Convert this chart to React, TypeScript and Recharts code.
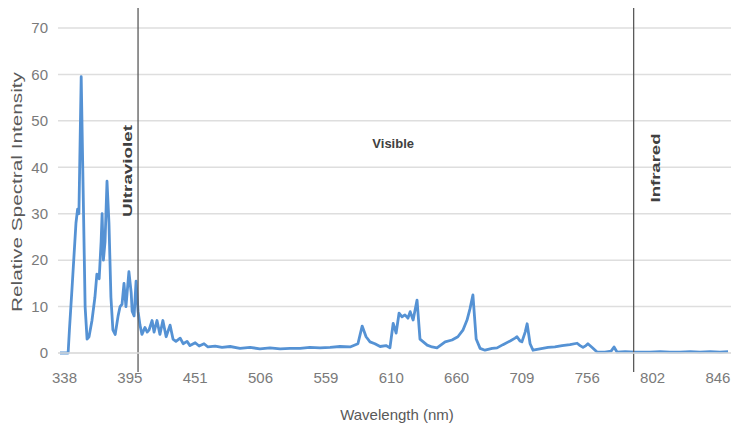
import { LineChart, Line, XAxis, YAxis, CartesianGrid, ReferenceLine, ReferenceDot, Label } from 'recharts'

// spectrum samples: position along the category axis (20 samples per tick label) and intensity
const sampleIndex = [
  -1.4, 1.1, 1.5, 2.3, 3.5, 4.0, 4.4, 5.1, 5.7, 6.3, 6.9, 7.5, 8.4, 9.3, 9.9, 10.6, 11.2, 11.5, 11.9, 12.4,
  13.0, 13.6, 14.2, 14.8, 15.5, 16.4, 17.0, 17.6, 18.2, 18.8, 19.7, 20.4, 20.7, 21.3, 21.9, 22.5, 23.1, 23.7,
  24.6, 25.3, 25.9, 26.8, 27.4, 28.3, 29.2, 30.1, 31.1, 32.3, 33.2, 34.1, 35.4, 36.3, 37.5, 38.4, 40.0, 41.2,
  42.7, 43.9, 46.1, 48.2, 50.7, 53.7, 56.8, 59.8, 62.9, 66.0, 69.0, 72.1, 75.1, 78.2, 81.3, 84.3, 87.4, 89.8,
  91.1, 92.3, 93.5, 95.0, 96.6, 98.4, 99.6, 100.6, 101.5, 102.4, 103.3, 104.2, 105.1, 105.8, 106.7, 107.9,
  108.8, 111.0, 112.5, 114.0, 116.5, 118.6, 120.4, 122.0, 123.2, 124.1, 125.0, 126.0, 127.2, 128.7, 130.9,
  132.4, 134.2, 136.4, 137.9, 138.5, 139.4, 140.0, 141.0, 141.6, 142.5, 143.4, 145.5, 148.0, 150.1, 152.3,
  154.7, 156.9, 157.8, 158.7, 159.6, 160.2, 161.5, 163.0, 165.4, 167.3, 168.2, 169.1, 171.6, 174.6, 179.2,
  182.3, 185.3, 188.4, 191.5, 194.5, 197.6, 200.6, 203.1,
]
const intensity = [
  0, 0, 5, 14, 28, 31, 30, 59.5, 35, 10, 3, 3.5, 7, 12, 17, 16, 24, 30, 20, 24,
  37, 28, 12, 5, 4, 8, 10, 10.5, 15, 10, 17.5, 13, 9, 8, 15.5, 9, 6, 4,
  5.5, 4.5, 5, 7, 4.5, 7, 4, 7, 3.5, 6, 3, 2.5, 3.2, 2, 2.5, 1.6, 2.2, 1.5,
  2, 1.3, 1.5, 1.2, 1.4, 1, 1.2, 0.9, 1.1, 0.9, 1, 1, 1.2, 1.1, 1.2, 1.4, 1.3, 2,
  5.8, 3.5, 2.4, 2, 1.4, 1.6, 1.1, 6.4, 4.3, 8.6, 7.8, 8.2, 7.5, 8.9, 7.1, 11.4,
  3, 1.7, 1.3, 1.1, 2.4, 2.8, 3.5, 5, 7.1, 9.5, 12.5, 3, 1, 0.6, 1,
  1.1, 1.8, 2.6, 3.2, 3.5, 2.6, 2.4, 4.5, 6.3, 2, 0.6, 0.9, 1.2, 1.3, 1.6,
  1.8, 2.1, 1.6, 1.2, 1.6, 2, 1.2, 0.2, 0.2, 0.4, 1.3, 0.2, 0.3, 0.2, 0.2,
  0.3, 0.2, 0.2, 0.3, 0.2, 0.3, 0.2, 0.3,
]

const tickPositions = [0, 20, 40, 60, 80, 100, 120, 140, 160, 180, 200]
const tickLabels = ['338', '395', '451', '506', '559', '610', '660', '709', '756', '802', '846']
const yTicks = [0, 10, 20, 30, 40, 50, 60, 70]

// borders between spectral regions, in sample positions
const uvEdge = 22.5
const irEdge = 174.2

const data = sampleIndex.map((idx, i) => ({ idx, value: intensity[i] }))

const sans = '"Liberation Sans", Arial, sans-serif'

if (typeof document !== 'undefined') document.body.style.margin = '0'

export default function App() {
  return (
    <LineChart width={732} height={430} data={data} margin={{ top: 28, right: 1, bottom: 37, left: 8 }}>
      <CartesianGrid vertical={false} stroke="#dedede" strokeWidth={1.5} />
      <XAxis
        dataKey="idx"
        type="number"
        domain={[-2, 204]}
        ticks={tickPositions}
        tickFormatter={(v: number) => tickLabels[tickPositions.indexOf(v)]}
        axisLine={{ stroke: '#dedede', strokeWidth: 1.5 }}
        tickLine={false}
        tickMargin={13}
        height={40}
        tick={{ fill: '#7a7a7a', fontSize: 15, fontFamily: sans }}
        allowDataOverflow
      >
        <Label
          content={() => (
            <text x={397} y={416} textAnchor="middle" dominantBaseline="middle" fill="#595959" fontSize={15} fontFamily={sans}>
              Wavelength (nm)
            </text>
          )}
        />
      </XAxis>
      <YAxis
        domain={[0, 70]}
        ticks={yTicks}
        axisLine={false}
        tickLine={false}
        tickMargin={4}
        width={50}
        tick={{ fill: '#7a7a7a', fontSize: 15, fontFamily: sans }}
      >
        <Label
          content={() => (
            <text
              x={18}
              y={192}
              transform="rotate(-90 18 192)"
              textAnchor="middle"
              dominantBaseline="middle"
              fill="#595959"
              fontSize={15}
              fontFamily={sans}
              textLength={240}
              lengthAdjust="spacingAndGlyphs"
            >
              Relative Spectral Intensity
            </text>
          )}
        />
      </YAxis>
      <Line
        type="linear"
        dataKey="value"
        stroke="#5592d4"
        strokeWidth={2.8}
        strokeLinejoin="round"
        dot={false}
        isAnimationActive={false}
      />
      <ReferenceLine
        segment={[{ x: uvEdge, y: 74.3 }, { x: uvEdge, y: -4.1 }]}
        ifOverflow="visible"
        stroke="#5a5a5a"
        strokeWidth={1.3}
        label={(p: any) => {
          const cx = p.viewBox.x - 9.5
          return (
            <text
              x={cx}
              y={171}
              transform={`rotate(-90 ${cx} 171)`}
              textAnchor="middle"
              dominantBaseline="middle"
              fill="#404040"
              fontWeight="bold"
              fontSize={13}
              fontFamily={sans}
              textLength={92}
              lengthAdjust="spacingAndGlyphs"
            >
              Ultraviolet
            </text>
          )
        }}
      />
      <ReferenceLine
        segment={[{ x: irEdge, y: 74.3 }, { x: irEdge, y: -4.1 }]}
        ifOverflow="visible"
        stroke="#5a5a5a"
        strokeWidth={1.3}
        label={(p: any) => {
          const cx = p.viewBox.x + 23
          return (
            <text
              x={cx}
              y={168}
              transform={`rotate(-90 ${cx} 168)`}
              textAnchor="middle"
              dominantBaseline="middle"
              fill="#404040"
              fontWeight="bold"
              fontSize={13}
              fontFamily={sans}
              textLength={69}
              lengthAdjust="spacingAndGlyphs"
            >
              Infrared
            </text>
          )
        }}
      />
      <ReferenceDot
        x={100.6}
        y={44.8}
        r={0}
        ifOverflow="visible"
        stroke="none"
        fill="none"
        label={(p: any) => (
          <text
            x={p.viewBox.x + (p.viewBox.width || 0) / 2}
            y={p.viewBox.y + (p.viewBox.height || 0) / 2}
            textAnchor="middle"
            dominantBaseline="middle"
            fill="#404040"
            fontWeight="bold"
            fontSize={13}
            fontFamily={sans}
          >
            Visible
          </text>
        )}
      />
    </LineChart>
  )
}
